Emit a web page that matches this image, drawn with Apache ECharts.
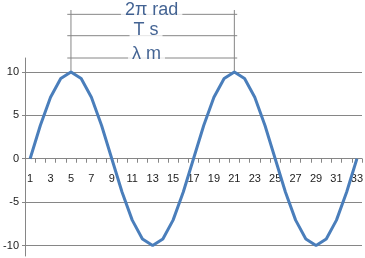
<!DOCTYPE html>
<html><head><meta charset="utf-8">
<script src="https://cdn.jsdelivr.net/npm/echarts@6/dist/echarts.min.js"></script>
<style>html,body{margin:0;padding:0;background:#fff}#c{width:365px;height:258px}</style>
</head><body><div id="c"></div>
<script>
const categories = ['1','2','3','4','5','6','7','8','9','10','11','12','13','14','15','16','17','18','19','20','21','22','23','24','25','26','27','28','29','30','31','32','33'];
const values = [0,3.83,7.07,9.24,10,9.24,7.07,3.83,0,-3.83,-7.07,-9.24,-10,-9.24,-7.07,-3.83,0,3.83,7.07,9.24,10,9.24,7.07,3.83,0,-3.83,-7.07,-9.24,-10,-9.24,-7.07,-3.83,0];
const yTicks = [-10,-5,0,5,10];
const gridValues = [-10,-5,5,10];
const annotTexts = ['2\u03c0 rad','T s','\u03bb m'];
const markCats = [5,21];

const gray = '#868686';
const YMIN = -11.2, YMAX = 11.6, Y2MAX = 18.28;
const GRID_TOP = 58, GRID_H = 198;
const zeroOffset = -(GRID_H * (0 - YMIN) / (YMAX - YMIN));

const seg = (a,b) => ({type:'line',xAxisIndex:1,yAxisIndex:1,data:[a,b],symbol:'none',silent:true,
  lineStyle:{color:gray,width:1},z:2,animation:false});

const series = [
  {type:'line',data:values,symbol:'none',lineStyle:{color:'#4A7EBB',width:3},z:5,animation:false,
   markLine:{silent:true,symbol:'none',label:{show:false},lineStyle:{color:gray,width:1,type:'solid'},animation:false,
     data:gridValues.map(v=>({yAxis:v}))}},
  seg([4.64,16.63],[21.28,16.63]),
  seg([4.64,14.17],[21.28,14.17]),
  seg([4.64,11.6],[21.28,11.6]),
  seg([markCats[0],10],[markCats[0],17.13]),
  seg([markCats[1],10],[markCats[1],17.13]),
  {type:'scatter',xAxisIndex:1,yAxisIndex:1,symbolSize:0,silent:true,z:10,animation:false,
   data:[[12.9,17.1,0],[12.35,14.85,1],[12.4,12.1,2]],
   label:{show:true,position:'inside',formatter:p=>annotTexts[p.data[2]],color:'#143C78',
     fontFamily:'Liberation Sans, Arial, sans-serif',fontSize:18,backgroundColor:'#fff',padding:[0,4],lineHeight:20}}
];

const chart = echarts.init(document.getElementById('c'));
chart.setOption({
  animation:false,
  grid:[{left:25,right:3,top:GRID_TOP,height:GRID_H,containLabel:false,outerBoundsMode:'none'},
        {left:25,right:3,top:0,bottom:2,containLabel:false,outerBoundsMode:'none'}],
  xAxis:[
    {type:'category',gridIndex:0,data:categories,boundaryGap:true,position:'bottom',offset:zeroOffset,
     axisLine:{onZero:false,lineStyle:{color:gray,width:1}},
     axisTick:{show:true,interval:0,length:4,lineStyle:{color:gray}},
     axisLabel:{interval:1,margin:15,color:'#222',fontFamily:'Liberation Sans, Arial, sans-serif',fontSize:11},
     splitLine:{show:false}},
    {type:'value',gridIndex:1,min:0.5,max:33.5,show:false}
  ],
  yAxis:[
    {type:'value',gridIndex:0,min:YMIN,max:YMAX,
     axisLine:{show:true,onZero:false,lineStyle:{color:gray,width:1}},
     axisTick:{show:true,customValues:yTicks,length:3,lineStyle:{color:gray}},
     axisLabel:{customValues:yTicks,margin:6,color:'#222',fontFamily:'Liberation Sans, Arial, sans-serif',fontSize:11},
     splitLine:{show:false}},
    {type:'value',gridIndex:1,min:YMIN,max:Y2MAX,show:false}
  ],
  series:series
});
</script></body></html>
